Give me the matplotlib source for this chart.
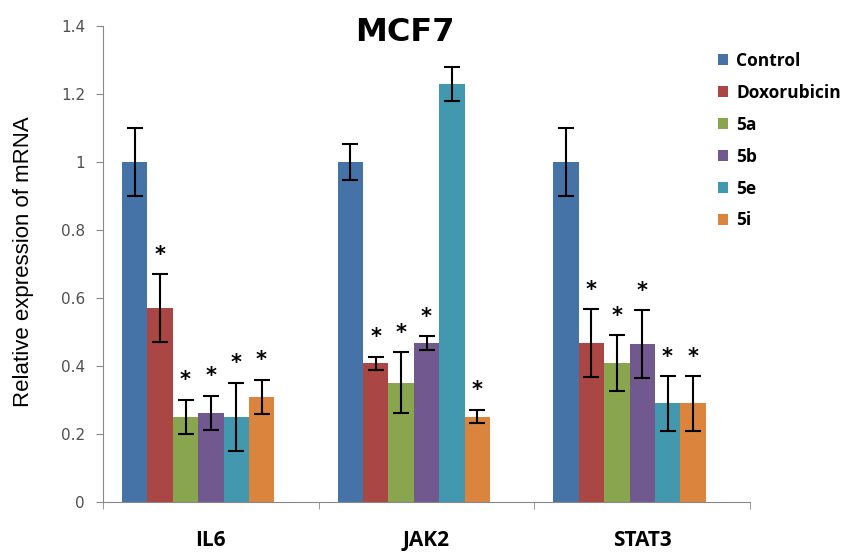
import matplotlib.pyplot as plt
import numpy as np

genes = ['IL6', 'JAK2', 'STAT3']
groups = ['Control', 'Doxorubicin', '5a', '5b', '5e', '5i']
colors = ['#4572A7', '#AA4643', '#89A54E', '#71588F', '#4198AF', '#DB843D']

# mean values, one list per treatment (IL6, JAK2, STAT3)
control = [1.0, 1.0, 1.0]
doxorubicin = [0.57, 0.408, 0.467]
g5a = [0.25, 0.351, 0.408]
g5b = [0.263, 0.467, 0.464]
g5e = [0.25, 1.23, 0.29]
g5i = [0.31, 0.251, 0.29]

# error bars
control_err = [0.1, 0.052, 0.1]
doxorubicin_err = [0.1, 0.019, 0.1]
g5a_err = [0.05, 0.09, 0.082]
g5b_err = [0.05, 0.02, 0.1]
g5e_err = [0.1, 0.05, 0.08]
g5i_err = [0.05, 0.02, 0.08]

# significance stars (1 = star above bar)
control_sig = [0, 0, 0]
doxorubicin_sig = [1, 1, 1]
g5a_sig = [1, 1, 1]
g5b_sig = [1, 1, 1]
g5e_sig = [1, 0, 1]
g5i_sig = [1, 1, 1]

values = [control, doxorubicin, g5a, g5b, g5e, g5i]
errors = [control_err, doxorubicin_err, g5a_err, g5b_err, g5e_err, g5i_err]
sigs = [control_sig, doxorubicin_sig, g5a_sig, g5b_sig, g5e_sig, g5i_sig]

fig = plt.figure(figsize=(8.52, 5.52), dpi=100)
ax = fig.add_axes([0.1209, 0.0906, 0.8803 - 0.1209, 0.9529 - 0.0906])

x = np.arange(len(genes))
nslots = 7  # excel layout leaves an empty 7th slot in each group
w = 0.1175
for j, name in enumerate(groups):
    pos = x + (j - (nslots - 1) / 2) * w
    ax.bar(pos, values[j], width=w, color=colors[j], label=name, zorder=2)
    ax.errorbar(pos, values[j], yerr=errors[j], fmt='none', ecolor='black',
                elinewidth=1.5, capsize=5.5, capthick=1.5, zorder=3)
    for k in range(len(genes)):
        if sigs[j][k]:
            ax.text(pos[k], values[j][k] + errors[j][k] + 0.028, '*',
                    ha='center', va='bottom', fontsize=15, fontweight='bold',
                    color='black', family='DejaVu Sans')

ax.set_xlim(-0.5, 2.5)
ax.set_ylim(0, 1.4)
ax.set_yticks(np.arange(0, 1.41, 0.2))
ax.set_yticklabels(['0', '0.2', '0.4', '0.6', '0.8', '1', '1.2', '1.4'],
                   color='#505050', fontsize=11, family='DejaVu Sans')
ax.set_xticks(x)
ax.set_xticklabels(genes, fontsize=15, fontweight='bold', family='Open Sans')
ax.tick_params(axis='x', length=0, pad=20)
ax.set_xticks([-0.5, 0.5, 1.5, 2.5], minor=True)
ax.tick_params(axis='x', which='minor', length=5, color='#888888', direction='out')
ax.tick_params(axis='y', length=5, color='#888888', pad=8)

for s in ['top', 'right']:
    ax.spines[s].set_visible(False)
ax.spines['left'].set_color('#888888')
ax.spines['bottom'].set_color('#888888')

ax.set_ylabel('Relative expression of mRNA', fontsize=16,
              family='Liberation Sans')
ax.yaxis.set_label_coords(-0.107, 0.505)

fig.text(0.475, 0.942, 'MCF7', ha='center', va='center', fontsize=23,
         fontweight='heavy', family='DejaVu Sans')

fig.legend(*ax.get_legend_handles_labels(), loc='upper left',
           bbox_to_anchor=(718 / 852, 1 - 52 / 552), frameon=False,
           borderpad=0, borderaxespad=0,
           prop={'family': 'Open Sans', 'weight': 'bold', 'size': 12.5},
           handlelength=0.6, handleheight=0.6, handletextpad=0.45,
           labelspacing=0.8)

fig.savefig('out.png', dpi=100)
